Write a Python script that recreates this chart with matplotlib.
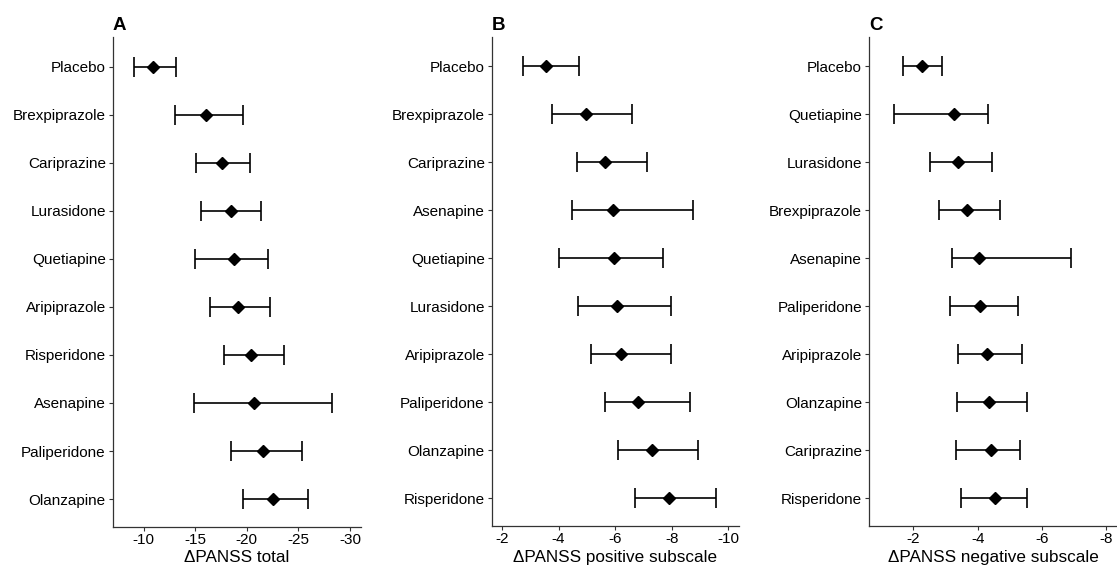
import matplotlib
matplotlib.use("Agg")
import matplotlib.pyplot as plt

plt.rcParams["font.family"] = ["Liberation Sans", "DejaVu Sans"]
plt.rcParams["axes.unicode_minus"] = False

# Panel A: change in PANSS total
drugs_a = ["Placebo", "Brexpiprazole", "Cariprazine", "Lurasidone", "Quetiapine",
           "Aripiprazole", "Risperidone", "Asenapine", "Paliperidone", "Olanzapine"]
mean_a = [-10.93, -16.01, -17.59, -18.46, -18.75, -19.17, -20.43, -20.69, -21.53, -22.50]
low_a = [-9.09, -13.00, -15.04, -15.52, -14.97, -16.42, -17.81, -14.87, -18.46, -19.65]
high_a = [-13.16, -19.65, -20.33, -21.34, -22.02, -22.24, -23.62, -28.28, -25.31, -25.92]
ticks_a = [-10, -15, -20, -25, -30]

# Panel B: change in PANSS positive subscale
drugs_b = ["Placebo", "Brexpiprazole", "Cariprazine", "Asenapine", "Quetiapine",
           "Lurasidone", "Aripiprazole", "Paliperidone", "Olanzapine", "Risperidone"]
mean_b = [-3.56, -4.98, -5.63, -5.92, -5.96, -6.07, -6.22, -6.80, -7.31, -7.91]
low_b = [-2.74, -3.77, -4.65, -4.47, -4.02, -4.68, -5.13, -5.64, -6.11, -6.72]
high_b = [-4.74, -6.60, -7.11, -8.74, -7.70, -7.98, -7.96, -8.65, -8.93, -9.55]
ticks_b = [-2, -4, -6, -8, -10]

# Panel C: change in PANSS negative subscale
drugs_c = ["Placebo", "Quetiapine", "Lurasidone", "Brexpiprazole", "Asenapine",
           "Paliperidone", "Aripiprazole", "Olanzapine", "Cariprazine", "Risperidone"]
mean_c = [-2.27, -3.25, -3.40, -3.66, -4.03, -4.07, -4.28, -4.34, -4.41, -4.53]
low_c = [-1.67, -1.40, -2.53, -2.80, -3.20, -3.14, -3.39, -3.37, -3.31, -3.48]
high_c = [-2.88, -4.31, -4.44, -4.68, -6.89, -5.25, -5.39, -5.54, -5.31, -5.53]
ticks_c = [-2, -4, -6, -8]

W, H = 1117, 569
fig = plt.figure(figsize=(W / 100, H / 100), dpi=100)


def forest(box, letter, drugs, mean, low, high, ticks, xlim, ylim, xlabel):
    left, right, top, bottom = box
    ax = fig.add_axes([left / W, 1 - bottom / H, (right - left) / W, (bottom - top) / H])
    ys = list(range(len(drugs)))
    # "high" is the more negative end of the interval
    err_minus = [m - h for m, h in zip(mean, high)]
    err_plus = [l - m for m, l in zip(mean, low)]
    ax.errorbar(mean, ys, xerr=[err_minus, err_plus], fmt="none", ecolor="black",
                elinewidth=1.2, capsize=7, capthick=1.2)
    ax.plot(mean, ys, "D", color="black", markersize=6.3)
    ax.set_xlim(xlim)
    ax.set_ylim(ylim)
    ax.set_yticks(ys)
    ax.set_yticklabels(drugs)
    ax.set_xticks(ticks)
    ax.set_xticklabels([str(t) for t in ticks])
    for s in ["top", "right"]:
        ax.spines[s].set_visible(False)
    for s in ["left", "bottom"]:
        ax.spines[s].set_color("#333333")
        ax.spines[s].set_linewidth(0.9)
    ax.tick_params(axis="y", labelsize=11, colors="#333333", labelcolor="black",
                   length=3, width=0.8, pad=2)
    ax.tick_params(axis="x", labelsize=11, colors="#333333", labelcolor="black",
                   length=3, width=0.8, pad=1.5)
    ax.set_xlabel(xlabel, fontsize=12.3, va="top")
    # just below the tick labels, inside the bottom edge
    ax.xaxis.set_label_coords(0.5, -(549.8 - bottom) / (bottom - top))
    fig.text(left / W, 1 - 30 / H, letter, fontsize=13.5, fontweight="bold",
             ha="left", va="baseline")
    return ax


forest((112.7, 360.7, 37.3, 526.5), "A", drugs_a, mean_a, low_a, high_a, ticks_a,
       (-7.0, -31.04), (9.57, -0.61), "\u0394PANSS total")
forest((491.7, 739.3, 37.0, 526.0), "B", drugs_b, mean_b, low_b, high_b, ticks_b,
       (-1.636, -10.39), (9.58, -0.61), "\u0394PANSS positive subscale")
forest((869.0, 1117.0, 37.0, 526.0), "C", drugs_c, mean_c, low_c, high_c, ticks_c,
       (-0.62, -8.33), (9.58, -0.61), "\u0394PANSS negative subscale")

fig.savefig("out.png", dpi=100)
